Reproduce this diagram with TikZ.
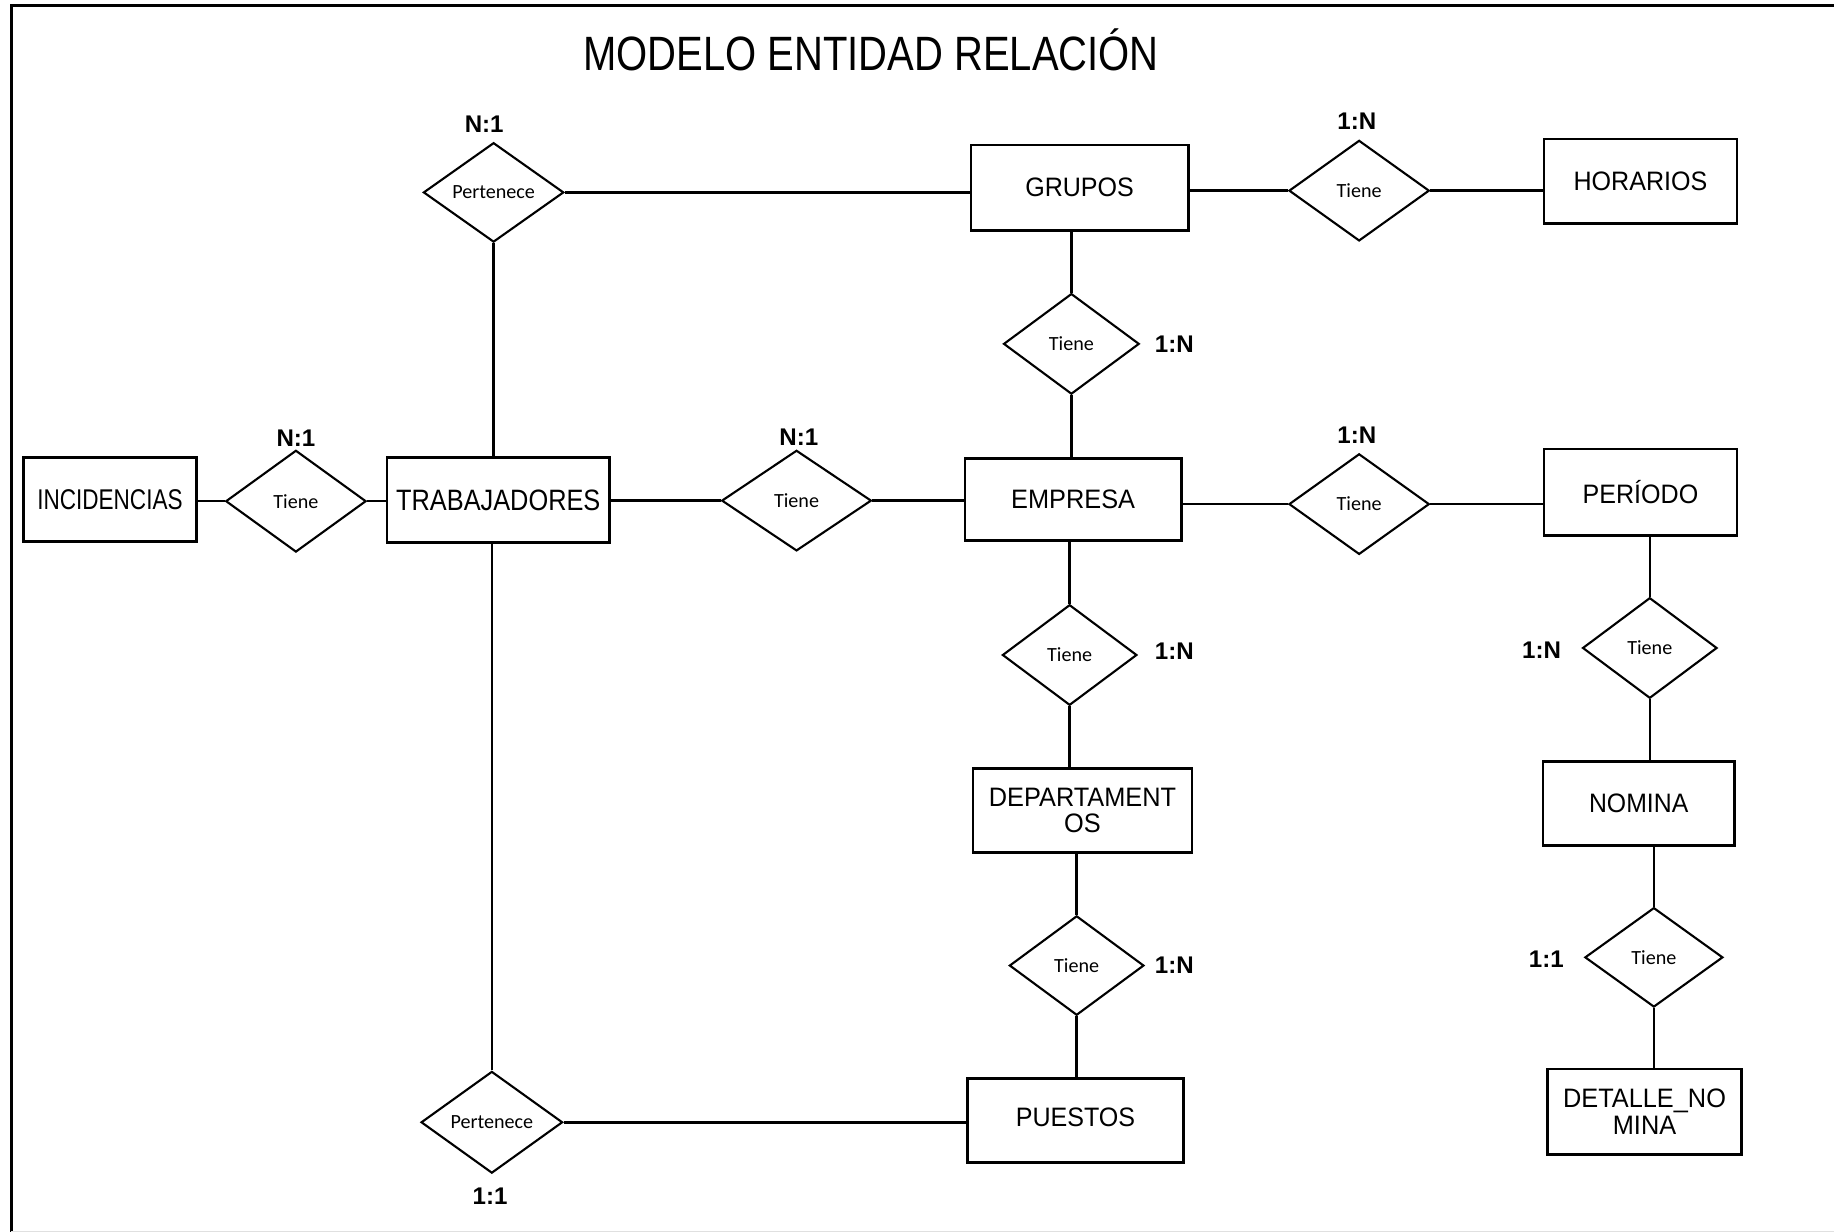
\documentclass[tikz,border=0pt]{standalone}
\usepackage{fontspec}
\setmainfont{Liberation Sans}
\newfontfamily\relfont{Carlito}
\usepackage{graphicx}
\usetikzlibrary{shapes.geometric}

% horizontally condensed entity text
\newcommand{\et}[2][0.95]{\scalebox{#1}[1]{#2}}

\tikzset{
  ent/.style={draw, line width=1.05pt, inner sep=0pt, align=center,
    font=\fontsize{11.4pt}{11.2pt}\selectfont},
  rel/.style={draw, diamond, aspect=1.4, line width=0.9pt, inner sep=0pt,
    font=\relfont\fontsize{8.6pt}{10pt}\selectfont},
  card/.style={inner sep=0pt, font=\bfseries\fontsize{10.3pt}{12pt}\selectfont},
  link/.style={line width=1.1pt},
}

\begin{document}
\begin{tikzpicture}[x=0.5pt, y=-0.5pt]
\useasboundingbox (0,0) rectangle (1568,1053);

% frame
\draw[line width=1.3pt] (9.6,1053) -- (9.6,4.9) -- (1568,4.9);
\draw[black!12, line width=0.5pt] (9.6,1052.6) -- (1568,1052.6);

% title
\node[anchor=base, inner sep=0pt, font=\fontsize{20.6pt}{24pt}\selectfont]
  (title) at (744.7,60.7) {\scalebox{0.83}[1]{MODELO ENTIDAD RELACIÓN}};

% entities
\node[ent, minimum width=93pt,   minimum height=36.5pt] (grupos)   at (923,160.5)   {\et[0.94]{GRUPOS}};
\node[ent, minimum width=82.5pt, minimum height=36pt]   (horarios) at (1402.5,155)  {\et[0.94]{HORARIOS}};
\node[ent, minimum width=74pt,   minimum height=36pt, font=\fontsize{12.2pt}{12pt}\selectfont]
                                                         (inc)      at (94,427)      {\et[0.79]{INCIDENCIAS}};
\node[ent, minimum width=95pt,   minimum height=36.5pt, font=\fontsize{12.6pt}{12pt}\selectfont]
                                                         (trab)     at (426,427.5)   {\et[0.86]{TRABAJADORES}};
\node[ent, minimum width=92.5pt, minimum height=35pt]   (empresa)  at (917.5,427)   {\et{EMPRESA}};
\node[ent, minimum width=82.5pt, minimum height=37pt]   (periodo)  at (1402.5,421)  {\et[0.94]{PERÍODO}};
\node[ent, minimum width=93.5pt, minimum height=36pt]   (dep)      at (925.5,693)   {\et{DEPARTAMENT}\\\et{OS}};
\node[ent, minimum width=92.5pt, minimum height=36pt]   (puestos)  at (919.5,958)   {\raisebox{2.5pt}{\et[0.94]{PUESTOS}}};
\node[ent, minimum width=82pt,   minimum height=36pt]   (nomina)   at (1401,687)    {\et[0.93]{NOMINA}};
\node[ent, minimum width=83pt,   minimum height=36.5pt] (detalle)  at (1406,950.5)  {\et{DETALLE\_NO}\\\et{MINA}};

% relationships
\node[rel, minimum width=60pt,   minimum height=42.5pt] (p1) at (422,164.5)   {Pertenece};
\node[rel, minimum width=60pt,   minimum height=43pt]   (t1) at (1162,163)    {Tiene};
\node[rel, minimum width=58pt,   minimum height=43pt]   (t2) at (916,294)     {Tiene};
\node[rel, minimum width=60pt,   minimum height=43.5pt] (t3) at (253,428.5)   {Tiene};
\node[rel, minimum width=64pt,   minimum height=43pt]   (t4) at (681,428)     {Tiene};
\node[rel, minimum width=60pt,   minimum height=43pt]   (t5) at (1162,431)    {Tiene};
\node[rel, minimum width=57.5pt, minimum height=43pt]   (t6) at (914.5,560)   {Tiene};
\node[rel, minimum width=57.5pt, minimum height=42.5pt] (t7) at (920.5,825.5) {Tiene};
\node[rel, minimum width=60.5pt, minimum height=43.5pt] (p2) at (420.5,959.5) {Pertenece};
\node[rel, minimum width=57.5pt, minimum height=43pt]   (t8) at (1410.5,554)  {Tiene};
\node[rel, minimum width=59pt,   minimum height=42.5pt] (t9) at (1414,818.5)  {Tiene};

% cardinalities
\node[card] (c1)  at (414,106)  {N:1};
\node[card] (c2)  at (1160,104) {1:N};
\node[card] (c3)  at (1004,294) {1:N};
\node[card] (c4)  at (253,375)  {N:1};
\node[card] (c5)  at (683,374)  {N:1};
\node[card] (c6)  at (1160,372) {1:N};
\node[card] (c7)  at (1004,557) {1:N};
\node[card] (c8)  at (1004,825) {1:N};
\node[card] (c9)  at (419,1023) {1:1};
\node[card] (c10) at (1318,556) {1:N};
\node[card] (c11) at (1322,820) {1:1};

% connectors
\draw[link] (p1.east) -- (grupos.west |- p1.east);
\draw[link] (p1.south) -- (p1.south |- trab.north);
\draw[link] (grupos.east |- t1.west) -- (t1.west);
\draw[link] (t1.east) -- (horarios.west |- t1.east);
\draw[link] (t2.north) -- (t2.north |- grupos.south);
\draw[link] (t2.south) -- (t2.south |- empresa.north);
\draw[link] (inc.east |- t3.west) -- (t3.west);
\draw[link] (t3.east) -- (trab.west |- t3.east);
\draw[link] (trab.east |- t4.west) -- (t4.west);
\draw[link] (t4.east) -- (empresa.west |- t4.east);
\draw[link] (empresa.east |- t5.west) -- (t5.west);
\draw[link] (t5.east) -- (periodo.west |- t5.east);
\draw[link] (t6.north) -- (t6.north |- empresa.south);
\draw[link] (t6.south) -- (t6.south |- dep.north);
\draw[link] (t7.north) -- (t7.north |- dep.south);
\draw[link] (t7.south) -- (t7.south |- puestos.north);
\draw[link] (t8.north) -- (t8.north |- periodo.south);
\draw[link] (t8.south) -- (t8.south |- nomina.north);
\draw[link] (t9.north) -- (t9.north |- nomina.south);
\draw[link] (t9.south) -- (t9.south |- detalle.north);
\draw[link] (p2.north) -- (p2.north |- trab.south);
\draw[link] (p2.east) -- (puestos.west |- p2.east);
\end{tikzpicture}
\end{document}
